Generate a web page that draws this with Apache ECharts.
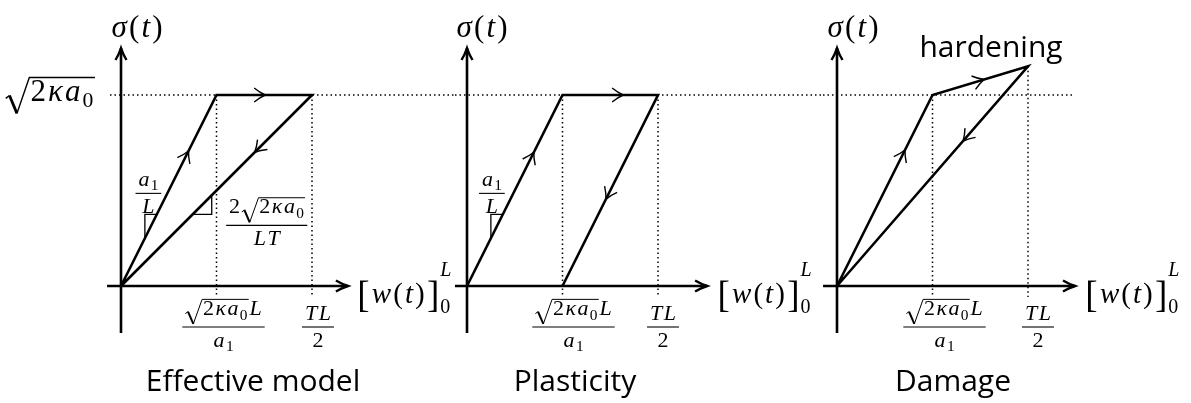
<!DOCTYPE html>
<html>
<head>
<meta charset="utf-8">
<script src="https://cdn.jsdelivr.net/npm/echarts@6/dist/echarts.min.js"></script>
<style>
  html, body { margin: 0; padding: 0; background: #fff; }
  #chart { width: 1191px; height: 403px; }
</style>
</head>
<body>
<div id="chart"></div>
<script>
// ---------- values (opening normalised by TL/2, stress normalised by √(2κa0)) ----------
const panelTitles = ['Effective model', 'Plasticity', 'Damage'];
const effectivePath = [[0, 0], [0.5, 1], [1, 1], [0, 0]];
const plasticityPath = [[0, 0], [0.5, 1], [1, 1], [0.5, 0]];
const damagePath = [[0, 0], [0.5, 1], [1, 1.15], [0, 0]];
const yieldLevel = 1;          // √(2κa0)
const kneeOpening = 0.5;       // √(2κa0)L / a1
const halfCycleOpening = 1;    // TL / 2
const panelPaths = [effectivePath, plasticityPath, damagePath];

// ---------- layout ----------
const INK = '#000';
const SERIF = '"Liberation Serif", "DejaVu Serif", serif';
const SANS = '"Open Sans", "Noto Sans", sans-serif';
const PX = 191;                       // pixels per unit on both axes
const ORIGIN_Y = 286;
const Y_MIN = -0.55, Y_MAX = 1.45;
const Y_AXIS = [-0.246, 1.246];
const GUIDE_DROP = 11;
const panelLayout = [
  { ox: 121, band: [110, 455], xAxis: [-0.073, 1.188] },
  { ox: 467, band: [455, 823], xAxis: [-0.063, 1.257] },
  { ox: 837, band: [823, 1075], xAxis: [-0.073, 1.246] }
];
// where the direction chevrons sit along each path segment
const flowMarks = [[0.707, 0.51, 0.30], [0.70, 0.635, 0.545], [0.712, 0.54, 0.34]];
// slope triangles: segment, run along x, corner side
const slopeMarks = [
  [{ seg: 0, xa: 0.125, xb: 0.1875, side: 'above' }, { seg: 2, xa: 0.375, xb: 0.475, side: 'below' }],
  [{ seg: 0, xa: 0.125, xb: 0.1875, side: 'above' }],
  []
];

// ---------- tiny math typesetter ----------
const mctx = document.createElement('canvas').getContext('2d');
const offCache = {};
function baseOff(font) {
  if (offCache[font] == null) {
    mctx.font = font;
    mctx.textBaseline = 'alphabetic';
    const a1 = mctx.measureText('H').actualBoundingBoxAscent;
    mctx.textBaseline = 'middle';
    const a2 = mctx.measureText('H').actualBoundingBoxAscent;
    mctx.textBaseline = 'alphabetic';
    offCache[font] = a1 - a2;
  }
  return offCache[font];
}
function seg(x1, y1, x2, y2, lw) {
  return { type: 'line', shape: { x1, y1, x2, y2 }, style: { stroke: INK, lineWidth: lw, lineCap: 'butt' } };
}
function poly(points, lw) {
  return { type: 'polyline', shape: { points }, style: { stroke: INK, fill: null, lineWidth: lw, lineJoin: 'miter' } };
}
function glyph(t, z, italic, family) {
  const isMath = !family;
  const font = (italic ? 'italic ' : '') + z + 'px ' + (family || SERIF);
  mctx.font = font;
  const m = mctx.measureText(t);
  const extra = isMath ? 0.07 * z : 0;   // math glyphs get a little extra room
  return {
    w: m.width + extra, asc: m.actualBoundingBoxAscent, desc: m.actualBoundingBoxDescent,
    draw(x, y, o) {
      o.push({ type: 'text', style: { text: t, x: x + extra / 2, y: y - baseOff(font), font, fill: INK, align: 'left', verticalAlign: 'middle' } });
    }
  };
}
const mi = (t, z) => glyph(t, z, true);
const mr = (t, z) => glyph(t, z, false);
function shift(b, dy) {
  return { w: b.w, asc: b.asc - dy, desc: b.desc + dy, draw: (x, y, o) => b.draw(x, y + dy, o) };
}
function kern(w) {
  return { w, asc: 0, desc: 0, draw() {} };
}
function row(...bs) {
  return {
    w: bs.reduce((s, b) => s + b.w, 0),
    asc: Math.max(...bs.map(b => b.asc)),
    desc: Math.max(...bs.map(b => b.desc)),
    draw(x, y, o) { let cx = x; bs.forEach(b => { b.draw(cx, y, o); cx += b.w; }); }
  };
}
function scripts(sup, sub, up, down) {
  return {
    w: Math.max(sup.w, sub.w), asc: sup.asc + up, desc: sub.desc + down,
    draw(x, y, o) { sup.draw(x, y - up, o); sub.draw(x, y + down, o); }
  };
}
function frac(num, den, z) {
  const axis = 0.25 * z, rule = Math.max(1, 0.05 * z), pad = 0.1 * z;
  const w = Math.max(num.w, den.w) + 2 * pad;
  const nb = Math.max(0.3 * z, num.desc + 0.14 * z);
  const db = Math.max(0.9 * z, den.asc + 0.14 * z);
  return {
    w, asc: axis + nb + num.asc, desc: db - axis + den.desc, bar: axis,
    draw(x, y, o) {
      const yb = y - axis;
      num.draw(x + (w - num.w) / 2, yb - nb, o);
      den.draw(x + (w - den.w) / 2, yb + db, o);
      o.push(seg(x, yb, x + w, yb, rule));
    }
  };
}
function radical(b, z) {
  const rw = 0.8 * z, lw = Math.max(1, 0.045 * z), ext = 0.03 * z;
  const top = b.asc + 0.08 * z;
  const bot = Math.max(b.desc, 0) + 0.2 * z;
  return {
    w: rw + b.w + ext, asc: top + lw / 2, desc: bot,
    draw(x, y, o) {
      const yt = y - top, yb = y + bot, H = top + bot;
      const p0 = [x + 0.05 * rw, yb - 0.42 * H], p1 = [x + 0.2 * rw, yb - 0.5 * H];
      const p2 = [x + 0.5 * rw, yb], p3 = [x + rw, yt], p4 = [x + rw + b.w + ext, yt];
      o.push(poly([p0, p1], lw));
      o.push(poly([p1, p2], lw * 2));
      o.push(poly([p2, p3, p4], lw));
      b.draw(x + rw, y, o);
    }
  };
}
function bigBracket(t, z, ref) {
  const g = mr(t, z);
  const dy = (ref.desc - ref.asc) / 2 - (g.desc - g.asc) / 2;
  return shift(g, dy);
}

const S = 31, s = 22, SW = 29;
const rootK = z => radical(row(mr('2', z), mi('κ', z), mi('a', z), shift(mr('0', z * 0.7), 0.2 * z)), z);
const formulas = {
  sigma: () => row(mi('σ', S), mr('(', S), mi('t', S), mr(')', S)),
  level: () => rootK(S),
  knee: () => frac(row(rootK(s), mi('L', s)), row(mi('a', s), shift(mr('1', s * 0.7), 0.2 * s)), s),
  half: () => frac(row(mi('T', s), mi('L', s)), mr('2', s), s),
  opening: () => {
    const p = mr('(', SW);
    return row(bigBracket('[', 37, p), mi('w', SW), p, mi('t', SW), mr(')', SW), bigBracket(']', 37, p),
      kern(-1), scripts(mi('L', 20), mr('0', 20), 27, 10));
  },
  slope1: () => frac(row(mi('a', s), shift(mr('1', s * 0.7), 0.2 * s)), mi('L', s), s),
  slope2: () => frac(row(mr('2', s), rootK(s)), row(mi('L', s), mi('T', s)), s)
};
function place(box, px, py, h, v, o) {
  const x = px - (h === 'center' ? box.w / 2 : h === 'right' ? box.w : 0);
  let y = py;
  if (v === 'bar') y = py + box.bar;
  box.draw(x, y, o);
}

function slopeGeom(p, k) {
  const m = slopeMarks[p][k], path = panelPaths[p];
  const a = path[m.seg], b = path[m.seg + 1];
  const f = x => a[1] + (b[1] - a[1]) * (x - a[0]) / (b[0] - a[0]);
  const A = [m.xa, f(m.xa)], B = [m.xb, f(m.xb)];
  const C = m.side === 'above' ? [m.xa, f(m.xb)] : [m.xb, f(m.xa)];
  return { A, B, C };
}

// labels for each panel: anchor in data units, pixel offset, alignment
const labelSets = [
  [
    { f: 'sigma', at: () => [0, Y_AXIS[1]], off: [16, -11], h: 'center', v: 'base' },
    { f: 'level', at: () => [0, yieldLevel], off: [-26, 6], h: 'right', v: 'base' },
    { f: 'knee', at: () => [kneeOpening, 0], off: [7, 41], h: 'center', v: 'bar' },
    { f: 'half', at: () => [halfCycleOpening, 0], off: [6, 41], h: 'center', v: 'bar' },
    { f: 'opening', at: () => [panelLayout[0].xAxis[1], 0], off: [8, 17], h: 'left', v: 'base' },
    { f: 'slope1', at: () => slopeGeom(0, 0).C, off: [3.5, -21], h: 'center', v: 'bar' },
    { f: 'slope2', at: () => slopeGeom(0, 1).C, off: [55, 11], h: 'center', v: 'bar' }
  ],
  [
    { f: 'sigma', at: () => [0, Y_AXIS[1]], off: [15, -11], h: 'center', v: 'base' },
    { f: 'knee', at: () => [kneeOpening, 0], off: [11, 41], h: 'center', v: 'bar' },
    { f: 'half', at: () => [halfCycleOpening, 0], off: [5, 41], h: 'center', v: 'bar' },
    { f: 'opening', at: () => [panelLayout[1].xAxis[1], 0], off: [9, 17], h: 'left', v: 'base' },
    { f: 'slope1', at: () => slopeGeom(1, 0).C, off: [1, -21], h: 'center', v: 'bar' }
  ],
  [
    { f: 'sigma', at: () => [0, Y_AXIS[1]], off: [16, -11], h: 'center', v: 'base' },
    { f: 'knee', at: () => [kneeOpening, 0], off: [12, 41], h: 'center', v: 'bar' },
    { f: 'half', at: () => [halfCycleOpening, 0], off: [10, 41], h: 'center', v: 'bar' },
    { f: 'opening', at: () => [panelLayout[2].xAxis[1], 0], off: [9, 17], h: 'left', v: 'base' }
  ]
];
const titleOffsets = [[132, 105], [108, 105], [116, 105]];
const hardeningOffset = [-37, -9];

// open arrow head ("to" style) with its tip at `tip`, pointing away from `from`
function chevron(tip, from, len, half, lw) {
  const dx = tip[0] - from[0], dy = tip[1] - from[1], d = Math.hypot(dx, dy);
  const ux = dx / d, uy = dy / d, nx = -uy, ny = ux;
  const bx = tip[0] - ux * len, by = tip[1] - uy * len;
  const cx = tip[0] - ux * len * 0.5, cy = tip[1] - uy * len * 0.5;
  const k = half * 0.36;
  const pd = 'M' + (bx + nx * half) + ' ' + (by + ny * half) +
    ' Q' + (cx + nx * k) + ' ' + (cy + ny * k) + ' ' + tip[0] + ' ' + tip[1] +
    ' Q' + (cx - nx * k) + ' ' + (cy - ny * k) + ' ' + (bx - nx * half) + ' ' + (by - ny * half);
  return { type: 'path', shape: { pathData: pd }, style: { stroke: INK, fill: 'none', lineWidth: lw, lineJoin: 'miter' } };
}
function dotted(a, b) {
  return { type: 'line', shape: { x1: a[0], y1: a[1], x2: b[0], y2: b[1] },
    style: { stroke: INK, lineWidth: 1.5, lineDash: [1.5, 3] } };
}

function guidesRenderer(p) {
  return function (params, api) {
    const L = panelLayout[p], path = panelPaths[p];
    const P = (x, y) => api.coord([x, y]);
    const o = [];
    o.push(dotted(P((L.band[0] - L.ox) / PX, yieldLevel), P((L.band[1] - L.ox) / PX, yieldLevel)));
    [1, 2].forEach(i => {
      const top = P(path[i][0], path[i][1]);
      const base = P(path[i][0], 0);
      o.push(dotted(top, [base[0], base[1] + GUIDE_DROP]));
    });
    return { type: 'group', children: o };
  };
}

function decorRenderer(p) {
  return function (params, api) {
    const L = panelLayout[p], path = panelPaths[p];
    const P = (x, y) => api.coord([x, y]);
    const o = [];
    // axes
    const x0 = P(L.xAxis[0], 0), x1 = P(L.xAxis[1], 0);
    const y0 = P(0, Y_AXIS[0]), y1 = P(0, Y_AXIS[1]);
    o.push(seg(x0[0], x0[1], x1[0], x1[1], 2.6));
    o.push(seg(y0[0], y0[1], y1[0], y1[1], 2.6));
    o.push(chevron(x1, x0, 12, 5.5, 2.4));
    o.push(chevron(y1, y0, 12, 5.5, 2.4));
    // direction chevrons along the loading path
    flowMarks[p].forEach((t, i) => {
      const a = path[i], b = path[i + 1];
      const tip = P(a[0] + (b[0] - a[0]) * t, a[1] + (b[1] - a[1]) * t);
      o.push(chevron(tip, P(a[0], a[1]), 11, 7, 1.4));
    });
    // slope triangles
    slopeMarks[p].forEach((m, k) => {
      const g = slopeGeom(p, k);
      o.push(poly([P(...g.A), P(...g.C), P(...g.B)], 1.3));
    });
    // labels
    labelSets[p].forEach(lb => {
      const a = P(...lb.at());
      place(formulas[lb.f](), a[0] + lb.off[0], a[1] + lb.off[1], lb.h, lb.v, o);
    });
    if (p === 2) {
      const pk = P(...damagePath[2]);
      place(glyph('hardening', 30, false, SANS), pk[0] + hardeningOffset[0], pk[1] + hardeningOffset[1], 'center', 'base', o);
    }
    const t0 = P(0, 0);
    place(glyph(panelTitles[p], 30, false, SANS), t0[0] + titleOffsets[p][0], t0[1] + titleOffsets[p][1], 'center', 'base', o);
    return { type: 'group', children: o };
  };
}

const grids = [], xAxes = [], yAxes = [], series = [];
panelLayout.forEach((L, p) => {
  grids.push({ left: L.band[0], top: ORIGIN_Y - Y_MAX * PX, width: L.band[1] - L.band[0], height: (Y_MAX - Y_MIN) * PX });
  xAxes.push({ type: 'value', gridIndex: p, min: (L.band[0] - L.ox) / PX, max: (L.band[1] - L.ox) / PX, show: false });
  yAxes.push({ type: 'value', gridIndex: p, min: Y_MIN, max: Y_MAX, show: false });
  series.push({
    type: 'custom', name: 'guides-' + p, xAxisIndex: p, yAxisIndex: p, clip: false, silent: true,
    renderItem: guidesRenderer(p), data: [[0, 0]], z: 1
  });
  series.push({
    type: 'line', name: panelTitles[p], xAxisIndex: p, yAxisIndex: p, data: panelPaths[p],
    symbol: 'none', showSymbol: false, clip: false, silent: true, z: 2,
    lineStyle: { color: INK, width: 2.6, join: 'miter', cap: 'butt' }
  });
  series.push({
    type: 'custom', name: 'decor-' + p, xAxisIndex: p, yAxisIndex: p, clip: false, silent: true,
    renderItem: decorRenderer(p), data: [[0, 0]], z: 3
  });
});

const chart = echarts.init(document.getElementById('chart'), null, { renderer: 'canvas' });
chart.setOption({
  backgroundColor: '#fff',
  animation: false,
  grid: grids,
  xAxis: xAxes,
  yAxis: yAxes,
  series
});
</script>
</body>
</html>
